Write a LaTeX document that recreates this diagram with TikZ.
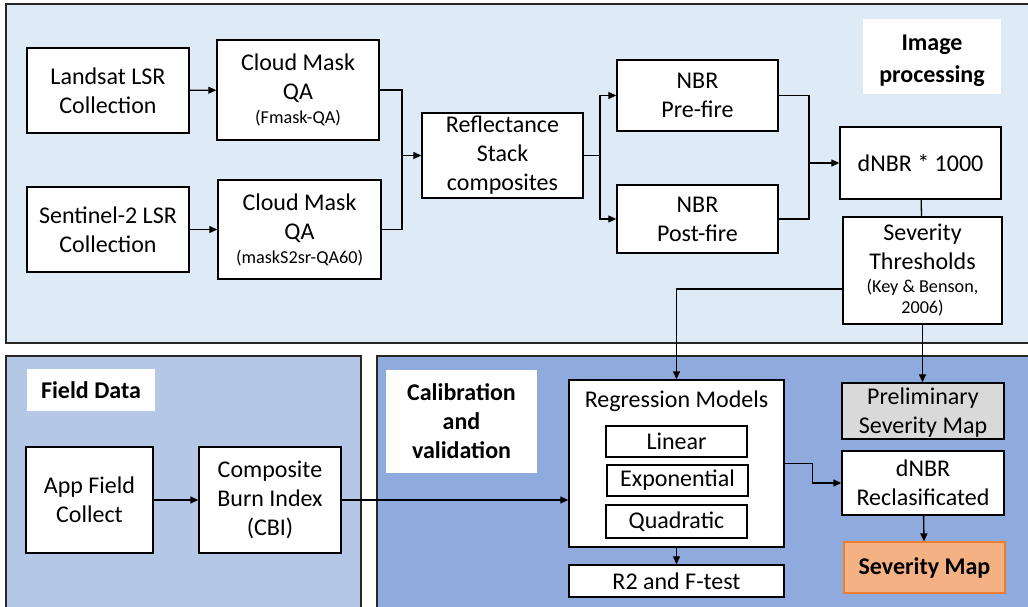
\documentclass[tikz,border=0pt]{standalone}
\usepackage{fontspec}
\setmainfont{Carlito}
\usetikzlibrary{arrows.meta,calc}

\definecolor{imgbg}{RGB}{222,235,247}
\definecolor{fieldbg}{RGB}{180,199,231}
\definecolor{calbg}{RGB}{143,170,220}
\definecolor{prelimgray}{RGB}{217,217,217}
\definecolor{mapfill}{RGB}{244,177,131}
\definecolor{mapdraw}{RGB}{237,125,49}

\newcommand{\bigtxt}{\fontsize{24}{29}\selectfont}
\newcommand{\smalltxt}{\fontsize{18.2}{21}\selectfont}

\tikzset{
  box/.style={draw,fill=white,line width=1.4pt,align=center,inner sep=0pt,font=\bigtxt},
  tag/.style={fill=white,align=center,inner sep=0pt,font=\bigtxt\bfseries},
  panel/.style={line width=1.6pt,draw=black!85},
  link/.style={line width=1.3pt}
}

\begin{document}
\begin{tikzpicture}[x=1pt,y=-1pt,>={Triangle[length=8pt,width=7pt]}]
  \useasboundingbox (0,0) rectangle (1028,607);
  % panels
  \filldraw[panel,fill=imgbg] (6,4) rectangle (1040,343);
  \filldraw[panel,fill=fieldbg] (6,356) rectangle (361,620);
  \filldraw[panel,fill=calbg] (377,356) rectangle (1040,620);

  % image processing
  \node[tag,minimum width=138,minimum height=75,
    label={[align=center,inner sep=0pt,yshift=-4pt,font=\bigtxt\bfseries]center:Image\\[3pt]processing}] (imgtag) at (932,56.5) {};
  \node[box,minimum width=162,minimum height=85] (land) at (108,90.5) {Landsat LSR\\Collection};
  \node[box,minimum width=162,minimum height=100] (qa1) at (298,90) {Cloud Mask\\QA\\[-5pt]\smalltxt (Fmask-QA)};
  \node[box,minimum width=162,minimum height=85] (sent) at (108,229.5) {Sentinel-2 LSR\\Collection};
  \node[box,minimum width=163,minimum height=99] (qa2) at (299.5,229.5) {Cloud Mask\\QA\\[-5pt]\smalltxt (maskS2sr-QA60)};
  \node[box,minimum width=161,minimum height=85] (refl) at (502.5,155.5) {Reflectance\\Stack\\composites};
  \node[box,minimum width=161,minimum height=71] (pre) at (697.5,95.5) {NBR\\Pre-fire};
  \node[box,minimum width=161,minimum height=68] (post) at (697.5,219) {NBR\\Post-fire};
  \node[box,minimum width=161,minimum height=72] (dnbr) at (920.5,163) {dNBR * 1000};
  \node[box,minimum width=159,minimum height=107] (thr) at (922.5,270.5) {Severity\\Thresholds\\[-6pt]\smalltxt (Key \& Benson,\\[-8pt]\smalltxt 2006)};

  % field data
  \node[tag,minimum width=128,minimum height=42] (fieldtag) at (91,390) {Field Data};
  \node[box,minimum width=127,minimum height=106] (app) at (89.5,500) {App Field\\Collect};
  \node[box,minimum width=142,minimum height=106] (cbi) at (270,500) {Composite\\Burn Index\\(CBI)};

  % calibration and validation
  \node[tag,minimum width=151,minimum height=103] (caltag) at (461.5,421.5) {Calibration\\and\\validation};
  \node[box,minimum width=215,minimum height=167,
    label={[anchor=north,inner sep=0pt,yshift=-11pt,font=\bigtxt]north:Regression Models}] (reg) at (676.5,463.5) {};
  \node[box,minimum width=141,minimum height=31] (lin) at (676.5,441.5) {Linear};
  \node[box,minimum width=141,minimum height=31] (expo) at (677.5,480.5) {Exponential};
  \node[box,minimum width=141,minimum height=33] (quad) at (676.5,521.5) {Quadratic};
  \node[box,minimum width=215,minimum height=32] (rtest) at (676.5,581) {R2 and F-test};
  \node[box,fill=prelimgray,minimum width=162,minimum height=56,text depth=0pt] (prelim) at (923,411) {Preliminary\\Severity Map};
  \node[box,minimum width=162,minimum height=64] (reclas) at (923,483) {dNBR\\Reclasificated};
  \node[box,draw=mapdraw,fill=mapfill,line width=1.2pt,font=\bigtxt\bfseries,minimum width=161,minimum height=51] (sevmap) at (924.5,567.5) {Severity Map};

  % connectors
  \coordinate (join1) at (402,155.5);
  \coordinate (fork1) at (600,155.5);
  \coordinate (join2) at (809,163);
  \draw[link,->] (land) -- (qa1);
  \draw[link,->] (sent) -- (qa2);
  \draw[link] (qa1.east) -| (join1);
  \draw[link] (qa2.east) -| (join1);
  \draw[link,->] (join1) -- (refl.west);
  \draw[link] (refl.east) -- (fork1);
  \draw[link,->] (fork1) |- (pre.west);
  \draw[link,->] (fork1) |- (post.west);
  \draw[link] (pre.east) -| (join2);
  \draw[link] (post.east) -| (join2);
  \draw[link,->] (join2) -- (dnbr.west);
  \draw[link] (dnbr) -- (thr);
  \draw[link,->] ([yshift=-18.5pt]thr.west) -| (reg.north);
  \draw[link,->] (thr.south) -- (thr.south |- prelim.north);
  \draw[link,->] (app) -- (cbi);
  \draw[link,->] (cbi.east) -- (cbi.east -| reg.west);
  \draw[link,->] (reg) -- (rtest);
  \draw[link,->] (reg.east) -- ++(28,0) |- (reclas.west);
  \draw[link,->] (reclas) -- (sevmap);
\end{tikzpicture}
\end{document}
